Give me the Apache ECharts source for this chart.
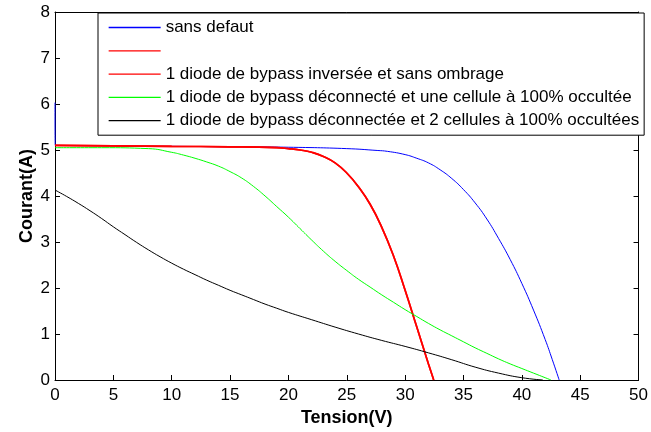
<!DOCTYPE html>
<html>
<head>
<meta charset="utf-8">
<script src="https://cdn.jsdelivr.net/npm/echarts@6/dist/echarts.min.js"></script>
<style>html,body{margin:0;padding:0;background:#fff;}#c{width:651px;height:432px;}</style>
</head>
<body>
<div id="c"></div>
<script>
const seriesNames = ['sans defaut', ' ', '1 diode de bypass inversée et sans ombrage', '1 diode de bypass déconnecté et une cellule à 100% occultée', '1 diode de bypass déconnectée et 2 cellules à 100% occultées'];
const xTicks = [0, 5, 10, 15, 20, 25, 30, 35, 40, 45, 50];
const yTicks = [0, 1, 2, 3, 4, 5, 6, 7, 8];

const sansDefaut = [[0,6.03],[0.02,5.1],[0.06,5.1],[5,5.09],[10,5.08],[15,5.07],[20,5.06],[25,5.03],[27.6,4.99],[28.5,4.97],[30,4.9],[31,4.82],[32,4.72],[33,4.57],[34,4.38],[35,4.14],[36,3.85],[37,3.5],[38,3.08],[39,2.62],[40,2.1],[41,1.52],[42,0.88],[42.6,0.45],[43.2,0]];
const redBlank = [[0,5.1],[5,5.09],[10,5.08],[15,5.07],[19,5.05],[20,5.03],[21,5.0],[22,4.95],[23,4.86],[24,4.72],[25,4.5],[26,4.2],[27,3.82],[28,3.32],[29,2.7],[30,1.95],[31,1.15],[32,0.35],[32.45,0]];
const inversee = [[0,5.1],[5,5.09],[10,5.08],[15,5.07],[19,5.05],[20,5.03],[21,5.0],[22,4.95],[23,4.86],[24,4.72],[25,4.5],[26,4.2],[27,3.82],[28,3.32],[29,2.7],[30,1.95],[31,1.15],[32,0.35],[32.45,0]];
const uneCellule = [[0,5.05],[4,5.05],[8,5.03],[10,4.95],[11,4.89],[12,4.82],[13,4.74],[14,4.65],[15,4.53],[16,4.39],[17,4.21],[18,4.0],[19,3.77],[20,3.54],[21,3.29],[22,3.04],[23,2.8],[24,2.58],[25,2.38],[26,2.19],[27,2.02],[28,1.85],[29,1.69],[30,1.53],[31,1.38],[32,1.23],[33,1.09],[34,0.96],[35,0.83],[36,0.7],[37,0.58],[38,0.46],[39,0.35],[40,0.25],[41,0.15],[42,0.05],[42.5,0]];
const deuxCellules = [[0,4.13],[1,3.99],[2,3.84],[3,3.68],[4,3.51],[5,3.33],[6,3.16],[7,2.99],[8,2.83],[9,2.68],[10,2.54],[11,2.41],[12,2.29],[13,2.17],[14,2.06],[15,1.95],[16,1.85],[17,1.75],[18,1.65],[19,1.56],[20,1.47],[22,1.31],[24,1.15],[26,1.0],[28,0.86],[30,0.73],[32,0.59],[34,0.44],[36,0.28],[38,0.15],[40,0.05],[41.8,0]];

const colors = ['#0000ff', '#ff0000', '#ff0000', '#00ff00', '#000000'];
const widths = [1, 1.7, 1.7, 1, 1];
const datasets = [sansDefaut, redBlank, inversee, uneCellule, deuxCellules];

const FONT = 'Liberation Sans, Arial, sans-serif';
const chart = echarts.init(document.getElementById('c'), null, {renderer: 'canvas'});

function axisBase(pos, min, max, interval, showLabel) {
  return {
    type: 'value', position: pos, min: min, max: max, interval: interval,
    splitLine: {show: false},
    axisLine: {show: true, onZero: false, lineStyle: {color: '#000', width: 1}},
    axisTick: {show: true, inside: true, length: 5, lineStyle: {color: '#000'}},
    axisLabel: {show: showLabel, color: '#000', fontFamily: FONT, fontSize: 17}
  };
}

const xMain = axisBase('bottom', xTicks[0], xTicks[xTicks.length-1], xTicks[1]-xTicks[0], true);
xMain.name = 'Tension(V)'; xMain.nameLocation = 'middle'; xMain.nameGap = 29;
xMain.nameMoveOverlap = false;
xMain.nameTextStyle = {fontFamily: FONT, fontSize: 18, fontWeight: 'bold', color: '#000'};
xMain.axisLabel.margin = 7;
const xTop = axisBase('top', xTicks[0], xTicks[xTicks.length-1], xTicks[1]-xTicks[0], false);
const yMain = axisBase('left', yTicks[0], yTicks[yTicks.length-1], yTicks[1]-yTicks[0], true);
yMain.name = 'Courant(A)'; yMain.nameLocation = 'middle'; yMain.nameGap = 19;
yMain.nameMoveOverlap = false;
yMain.nameTextStyle = {fontFamily: FONT, fontSize: 18, fontWeight: 'bold', color: '#000'};
yMain.axisLabel.margin = 5;
const yRight = axisBase('right', yTicks[0], yTicks[yTicks.length-1], yTicks[1]-yTicks[0], false);

const option = {
  animation: false,
  backgroundColor: '#fff',
  color: colors,
  grid: {left: 55, right: 8, top: 12, bottom: 52, containLabel: false},
  xAxis: [xMain, xTop],
  yAxis: [yMain, yRight],
  legend: {
    orient: 'vertical', left: 98, top: 13,
    backgroundColor: '#fff', borderColor: '#000', borderWidth: 1,
    padding: [6, 5, 6, 10],
    itemWidth: 52, itemHeight: 16, itemGap: 6.3,
    selectedMode: false,
    itemStyle: {opacity: 0},
    textStyle: {fontFamily: FONT, fontSize: 17, color: '#000', lineHeight: 16},
    data: seriesNames.map((n, i) => ({name: n, lineStyle: {color: colors[i], width: 1.3, opacity: 1}}))
  },
  series: seriesNames.map((n, i) => ({
    name: n, type: 'line', xAxisIndex: 0, yAxisIndex: 0,
    data: datasets[i], showSymbol: false, symbol: 'none',
    color: colors[i],
    lineStyle: {color: colors[i], width: widths[i]},
    itemStyle: {color: colors[i]},
    smooth: 0.5, clip: true
  }))
};
chart.setOption(option);
</script>
</body>
</html>
